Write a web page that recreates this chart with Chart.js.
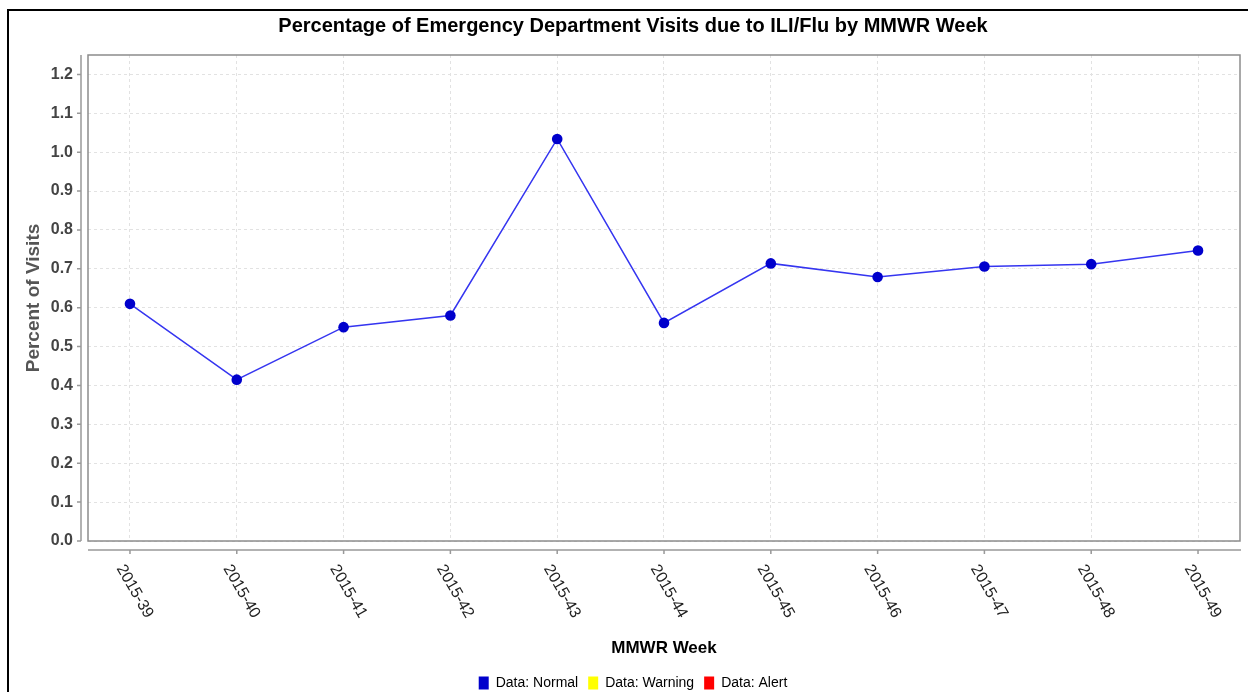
<!DOCTYPE html>
<html>
<head>
<meta charset="utf-8">
<script src="https://cdn.jsdelivr.net/npm/chart.js@4"></script>
<style>
  body { margin: 0; background: #fff; }
  #frame {
    position: absolute; left: 7px; top: 9px; width: 1300px; height: 700px;
    border-left: 2px solid #000; border-top: 2px solid #000;
  }
  #chart { position: absolute; left: 0; top: 0; }
</style>
</head>
<body>
<div id="frame"></div>
<canvas id="chart" width="1248" height="692"></canvas>
<script>
const weeks = ["2015-39", "2015-40", "2015-41", "2015-42", "2015-43", "2015-44",
  "2015-45", "2015-46", "2015-47", "2015-48", "2015-49"];
const visits = [0.61, 0.415, 0.55, 0.58, 1.034, 0.561, 0.714, 0.679, 0.706, 0.712, 0.747];
const yTicks = [0, 0.1, 0.2, 0.3, 0.4, 0.5, 0.6, 0.7, 0.8, 0.9, 1.0, 1.1, 1.2];
const legendNames = ["Data: Normal", "Data: Warning", "Data: Alert"];
const legendColors = ["#0000cc", "#ffff00", "#ff0000"];

const FONT = "'Liberation Sans', Arial, sans-serif";

// axis lines sit a few pixels away from the plot box, like the original
const axisPlugin = {
  id: "axisPlugin",
  beforeDatasetsDraw(chart) {
    const { ctx, chartArea: a } = chart;
    ctx.save();
    ctx.strokeStyle = "#8c8c8c";
    ctx.lineWidth = 1.5;
    ctx.strokeRect(a.left, a.top, a.right - a.left, a.bottom - a.top);
    ctx.restore();
  },
  afterDraw(chart) {
    const { ctx, chartArea: a } = chart;
    const x = chart.scales.x;
    const y = chart.scales.y;
    ctx.save();
    ctx.strokeStyle = "#999";
    ctx.lineWidth = 1.5;

    // y axis line + ticks
    const yx = a.left - 7;
    ctx.beginPath();
    ctx.moveTo(yx, a.top);
    ctx.lineTo(yx, a.bottom);
    yTicks.forEach(function (v) {
      const py = y.getPixelForValue(v);
      ctx.moveTo(yx - 4, py);
      ctx.lineTo(yx, py);
    });
    ctx.stroke();

    // x axis line + ticks
    const xy = a.bottom + 9;
    ctx.beginPath();
    ctx.moveTo(a.left, xy);
    ctx.lineTo(a.right + 1, xy);
    weeks.forEach(function (w, i) {
      const px = x.getPixelForValue(i);
      ctx.moveTo(px, xy);
      ctx.lineTo(px, xy + 4);
    });
    ctx.stroke();

    // rotated week labels
    ctx.fillStyle = "#222";
    ctx.font = "16px " + FONT;
    ctx.textAlign = "left";
    ctx.textBaseline = "middle";
    weeks.forEach(function (w, i) {
      const px = x.getPixelForValue(i);
      ctx.save();
      ctx.translate(px - 10, xy + 16);
      ctx.rotate(Math.PI / 3);
      ctx.fillText(w, 0, 0);
      ctx.restore();
    });
    ctx.restore();
  }
};

const ctx = document.getElementById("chart").getContext("2d");
new Chart(ctx, {
  type: "line",
  data: {
    datasets: [
      {
        label: "Percent of Visits",
        data: weeks.map(function (w, i) { return { x: i, y: visits[i] }; }),
        borderColor: "#3535f0",
        borderWidth: 1.5,
        pointRadius: 5.3,
        pointHoverRadius: 5.3,
        pointBackgroundColor: "#0000cc",
        pointBorderWidth: 0,
        tension: 0,
        fill: false
      }
    ]
  },
  options: {
    responsive: false,
    animation: false,
    layout: { padding: { left: 18, right: 0, top: 0, bottom: -8 } },
    plugins: {
      tooltip: { enabled: false },
      title: {
        display: true,
        text: "Percentage of Emergency Department Visits due to ILI/Flu by MMWR Week",
        color: "#000",
        font: { family: FONT, size: 20, weight: "bold", lineHeight: 1.2 },
        padding: { top: 14, bottom: 17 }
      },
      legend: {
        position: "bottom",
        labels: {
          color: "#000",
          font: { family: FONT, size: 14 },
          boxWidth: 10,
          boxHeight: 13,
          padding: 10,
          generateLabels: function () {
            return legendNames.map(function (n, i) {
              return {
                text: n,
                fillStyle: legendColors[i],
                strokeStyle: legendColors[i],
                lineWidth: 0,
                hidden: false,
                datasetIndex: 0
              };
            });
          }
        },
        onClick: null
      }
    },
    scales: {
      x: {
        type: "linear",
        min: -0.393,
        max: 10.393,
        afterBuildTicks: function (scale) {
          scale.ticks = weeks.map(function (w, i) { return { value: i }; });
        },
        afterFit: function (scale) { scale.height = 125; },
        ticks: { display: false },
        grid: { color: "#e2e2e2", lineWidth: 1, drawTicks: false },
        border: { display: false, dash: [3, 3] },
        title: {
          display: true,
          text: "MMWR Week",
          color: "#000",
          font: { family: FONT, size: 17, weight: "bold", lineHeight: 1.2 },
          padding: { top: 0, bottom: 7 }
        }
      },
      y: {
        min: 0,
        max: 1.25,
        afterBuildTicks: function (scale) {
          scale.ticks = yTicks.map(function (v) { return { value: v }; });
        },
        afterFit: function (scale) { scale.width = 70; },
        ticks: {
          color: "#444",
          padding: 15,
          font: { family: FONT, size: 16, weight: "bold" },
          callback: function (v) { return v.toFixed(1); }
        },
        grid: { color: "#e2e2e2", lineWidth: 1, drawTicks: false },
        border: { display: false, dash: [3, 3] },
        title: {
          display: true,
          text: "Percent of Visits",
          color: "#555",
          font: { family: FONT, size: 19, weight: "bold", lineHeight: 1.2 },
          padding: { top: 4, bottom: 0 }
        }
      },
      yRight: {
        position: "right",
        display: true,
        afterFit: function (scale) { scale.width = 8; },
        ticks: { display: false },
        grid: { display: false },
        border: { display: false }
      }
    }
  },
  plugins: [axisPlugin]
});
</script>
</body>
</html>
